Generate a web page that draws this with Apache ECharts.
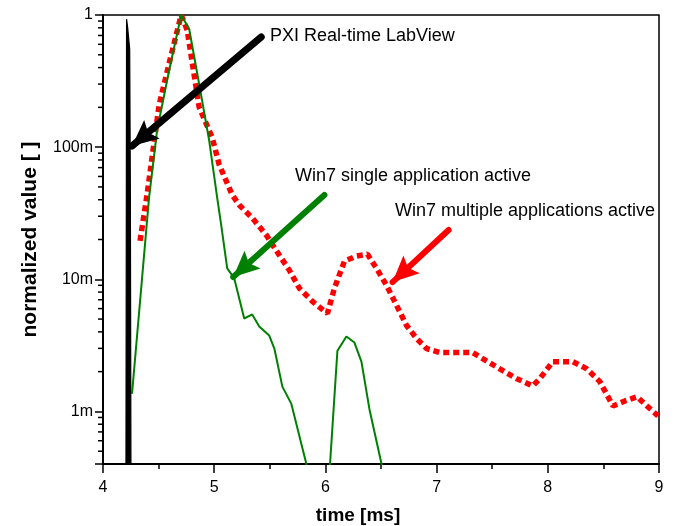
<!DOCTYPE html>
<html><head><meta charset="utf-8">
<script src="https://cdn.jsdelivr.net/npm/echarts@6/dist/echarts.min.js"></script>
<style>html,body{margin:0;padding:0;background:#fff}#c{width:674px;height:526px}</style>
</head><body><div id="c"></div>
<script>
// ---- data (time in ms, normalized value) ----
const pxiTime  = [4.206, 4.212, 4.222, 4.240, 4.246, 4.252];
const pxiValue = [0.0002, 0.93, 0.80, 0.55, 0.05, 0.0002];

const singleTime  = [4.261, 4.414, 4.486, 4.595, 4.703, 4.775, 4.865, 4.955, 5.027, 5.063, 5.117, 5.180, 5.270, 5.342, 5.405, 5.495, 5.541, 5.613, 5.694, 5.829, 5.900, 5.995, 6.108, 6.189, 6.261, 6.324, 6.396, 6.505, 6.550];
const singleValue = [0.00136, 0.0413, 0.1334, 0.382, 1.0, 0.783, 0.299, 0.112, 0.0413, 0.0257, 0.0121, 0.0102, 0.00505, 0.00542, 0.00439, 0.00375, 0.00299, 0.00154, 0.00114, 0.00040, 0.0001, 0.0001, 0.00288, 0.00369, 0.00332, 0.00238, 0.00104, 0.00040, 0.0001];

const multiTime  = [4.333, 4.396, 4.505, 4.604, 4.703, 4.757, 4.865, 4.982, 5.045, 5.162, 5.225, 5.342, 5.468, 5.586, 5.676, 5.766, 5.883, 6.018, 6.081, 6.171, 6.279, 6.378, 6.459, 6.550, 6.640, 6.730, 6.820, 6.910, 7.027, 7.180, 7.324, 7.414, 7.568, 7.721, 7.865, 7.928, 8.045, 8.225, 8.351, 8.468, 8.586, 8.694, 8.802, 8.892, 8.991];
const multiValue = [0.0195, 0.0435, 0.21, 0.463, 1.0, 0.769, 0.20, 0.118, 0.0736, 0.0435, 0.0365, 0.0291, 0.0216, 0.0152, 0.0117, 0.00855, 0.00680, 0.00551, 0.00855, 0.0137, 0.0150, 0.0155, 0.0121, 0.0090, 0.00634, 0.00447, 0.00356, 0.00299, 0.00279, 0.00279, 0.00279, 0.00251, 0.00210, 0.00177, 0.00156, 0.00177, 0.00238, 0.00238, 0.00210, 0.00168, 0.00110, 0.00120, 0.00129, 0.00110, 0.000924];

// annotation arrows: [fromTime, fromValue, toTime, toValue]
const pxiArrow    = [5.423, 0.681, 4.261, 0.102];
const singleArrow = [5.991, 0.0434, 5.171, 0.0104];
const multiArrow  = [7.108, 0.0236, 6.604, 0.00952];

const annotationTexts = ['PXI Real-time LabView', 'Win7 single application active', 'Win7 multiple applications active'];

// axis ticks
const xMin = 4, xMax = 9, xStep = 1;
const yMin = 0.0004, yMax = 1;
const yTickLabels = { '0': '1', '-1': '100m', '-2': '10m', '-3': '1m' };
const yMinorMultiples = [2, 3, 4, 5, 6, 7, 8, 9];
const yDecades = [0.0001, 0.001, 0.01, 0.1];

const zip = (a, b) => a.map((v, i) => [v, b[i]]);
const yMinorTicks = [];
yDecades.forEach(d => yMinorMultiples.forEach(m => { const v = d * m; if (v > yMin * 1.0001 && v < yMax) yMinorTicks.push(v); }));

const FONT = 'Liberation Sans, Arial, sans-serif';
// arrow head whose tip sits at the symbol centre (empty moves pad the box)
const ARROW_HEAD = 'path://M-28,-28 M28,28 M0,0 L12,26 L0,21 L-12,26 Z';

function arrowLine(a, color, width) {
  return {
    silent: true, animation: false,
    symbol: ['none', ARROW_HEAD], symbolSize: 56,
    label: { show: false },
    lineStyle: { color: color, width: width, type: 'solid', cap: 'round', opacity: 1 },
    itemStyle: { color: color },
    emphasis: { disabled: true },
    data: [[{ coord: [a[0], a[1]] }, { coord: [a[2], a[3]] }]]
  };
}

const chart = echarts.init(document.getElementById('c'), null, { renderer: 'canvas' });
chart.setOption({
  animation: false,
  backgroundColor: '#fff',
  grid: { left: 103, right: 15, top: 15, bottom: 62, containLabel: false, outerBoundsMode: 'none', show: true, borderColor: '#000', borderWidth: 1.5, backgroundColor: 'transparent' },
  xAxis: {
    type: 'value', min: xMin, max: xMax, interval: xStep,
    name: 'time [ms]', nameLocation: 'middle', nameGap: 42,
    nameTextStyle: { fontFamily: FONT, fontSize: 19, fontWeight: 'bold', color: '#000', padding: [0, 46, 0, 0] },
    axisLine: { show: true, lineStyle: { color: '#000', width: 2 } },
    axisTick: { show: true, inside: false, length: 9, lineStyle: { color: '#000', width: 1.5 } },
    minorTick: { show: true, splitNumber: 2, length: 5, lineStyle: { color: '#000', width: 1.5 } },
    axisLabel: { fontFamily: FONT, fontSize: 16, color: '#000', margin: 16 },
    splitLine: { show: false }
  },
  yAxis: {
    type: 'log', logBase: 10, min: yMin, max: yMax,
    name: 'normalized value [ ]', nameLocation: 'middle', nameGap: 62,
    nameTextStyle: { fontFamily: FONT, fontSize: 21, fontWeight: 'bold', color: '#000' },
    axisLine: { show: true, lineStyle: { color: '#000', width: 2 } },
    axisTick: { show: true, inside: false, length: 8, lineStyle: { color: '#000', width: 1.5 } },
    axisLabel: {
      fontFamily: FONT, fontSize: 16, color: '#000', margin: 10,
      formatter: v => {
        const e = Math.log10(v); const r = Math.round(e);
        if (Math.abs(e - r) > 1e-6) return '';
        return yTickLabels[String(r)] || '';
      }
    },
    splitLine: { show: false }
  },
  series: [
    {
      name: 'Win7 multiple applications active', type: 'line', data: zip(multiTime, multiValue),
      showSymbol: false, smooth: false, clip: true, z: 3,
      lineStyle: { color: '#ff0000', width: 5.5, type: [6, 4], cap: 'butt' },
      markLine: arrowLine(multiArrow, '#ff0000', 6)
    },
    {
      name: 'Win7 single application active', type: 'line', data: zip(singleTime, singleValue),
      showSymbol: false, smooth: false, clip: true, z: 4,
      lineStyle: { color: '#008000', width: 2 },
      markLine: arrowLine(singleArrow, '#008000', 6)
    },
    {
      name: 'PXI Real-time LabView', type: 'line', data: zip(pxiTime, pxiValue),
      showSymbol: false, smooth: false, clip: true, z: 5,
      lineStyle: { color: '#000', width: 1.2 },
      areaStyle: { color: '#000', opacity: 1, origin: 'start' },
      markLine: arrowLine(pxiArrow, '#000', 7)
    },
    {
      name: 'yMinorTicks', type: 'custom', clip: false, silent: true, z: 6,
      data: yMinorTicks.map(v => [xMin, v]),
      renderItem: (params, api) => {
        const p = api.coord([api.value(0), api.value(1)]);
        return { type: 'line', shape: { x1: p[0] - 5, y1: p[1], x2: p[0], y2: p[1] }, style: { stroke: '#000', lineWidth: 1.5 } };
      }
    }
  ],
  graphic: [
    { type: 'text', left: 270, top: 27, style: { text: annotationTexts[0], font: '18px ' + FONT, fill: '#000' } },
    { type: 'text', left: 295, top: 167, style: { text: annotationTexts[1], font: '18px ' + FONT, fill: '#000' } },
    { type: 'text', left: 395, top: 202, style: { text: annotationTexts[2], font: '18px ' + FONT, fill: '#000' } }
  ]
});
</script></body></html>
